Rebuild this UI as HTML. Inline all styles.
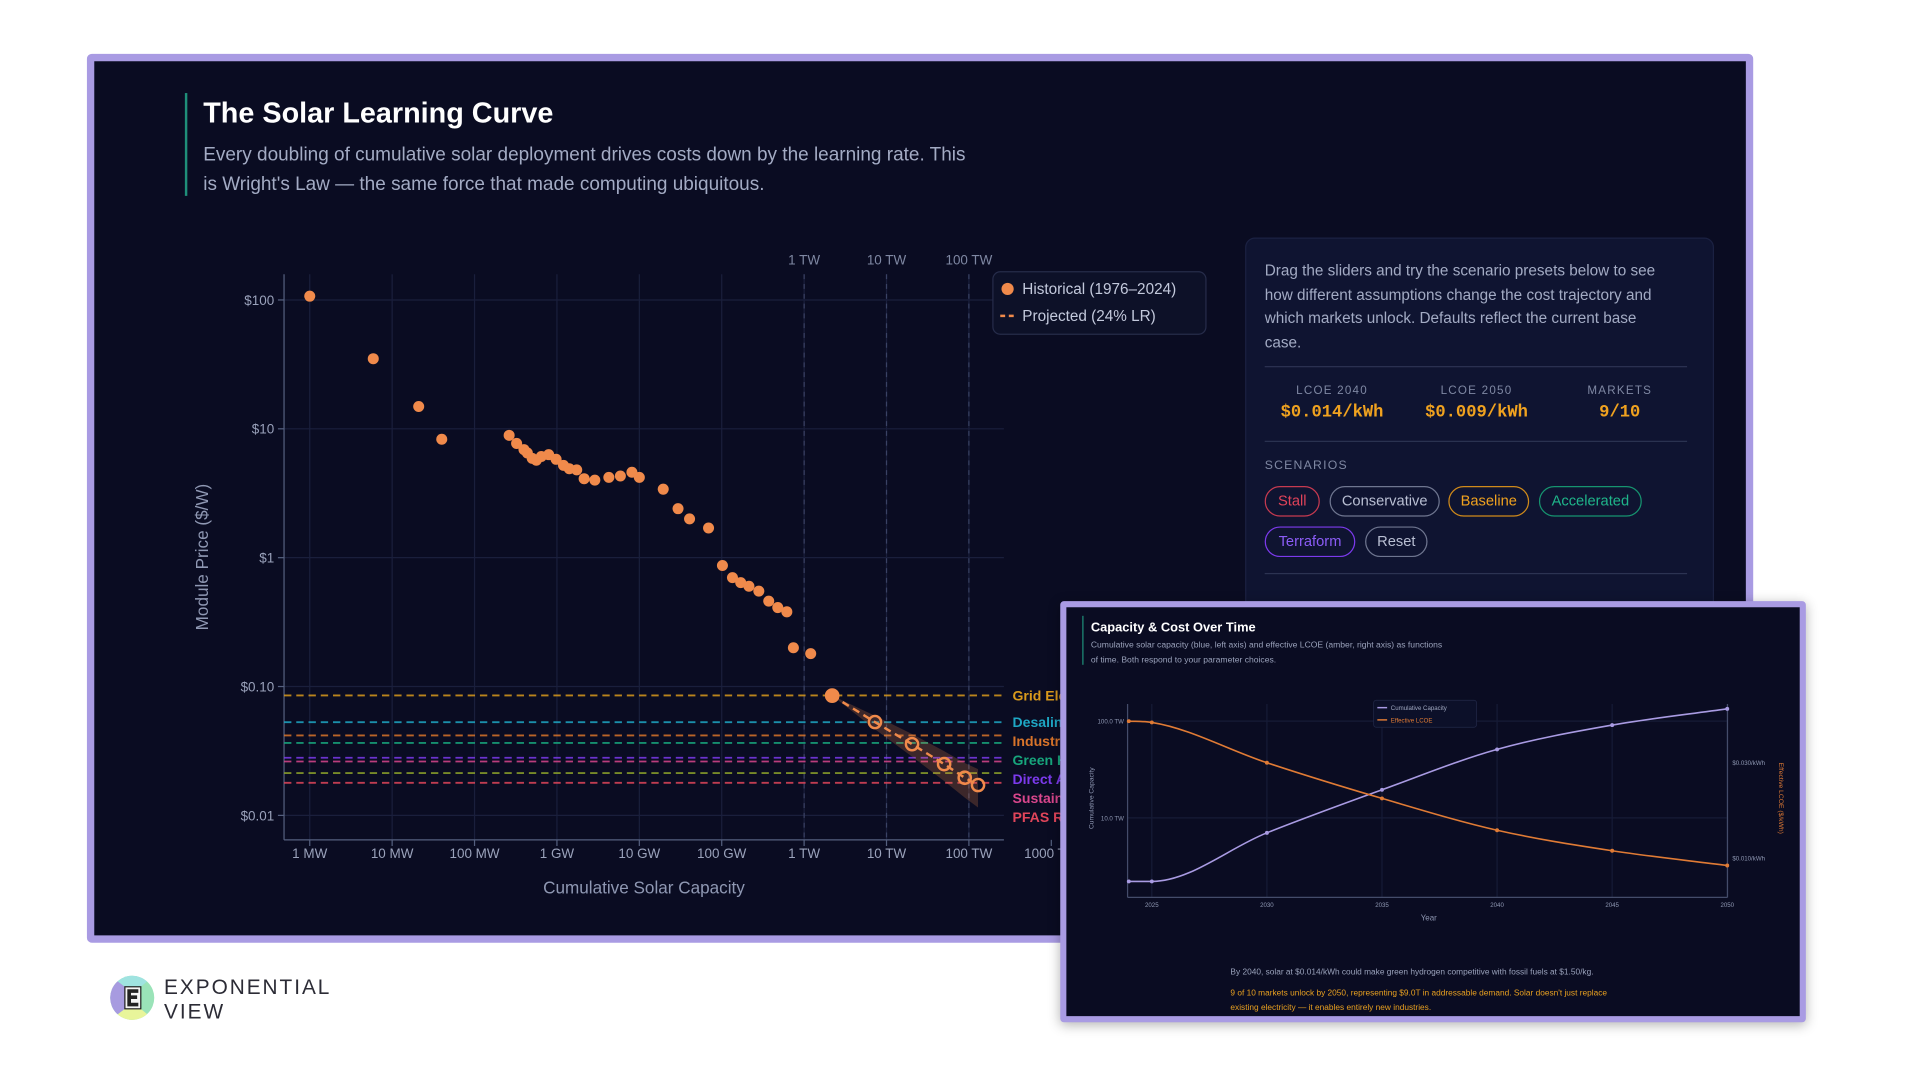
<!DOCTYPE html>
<html><head><meta charset="utf-8">
<style>
html,body{margin:0;padding:0;background:#fff;width:1920px;height:1080px;overflow:hidden;font-family:"Liberation Sans",sans-serif}
#stage{position:absolute;left:0;top:0;width:1543px;height:868px;transform:scale(1.2243);transform-origin:0 0}
.abs{position:absolute}
#frame{left:71px;top:44px;width:1349px;height:714px;border:6px solid #a99be3;border-radius:4px;background:#0a0c22}
#panel{left:1017px;top:194px;width:381px;height:320px;background:#0f1431;border-radius:8px;border:1px solid #1b2142}
.ptxt{color:#a3abc4;font-size:12.5px;line-height:19.7px}
.div{height:1px;background:#2c3352;width:345px;left:1033px}
.slab{color:#7f88a3;font-size:9.5px;letter-spacing:1px;text-align:center;width:110px}
.sval{color:#f0a21f;font-family:"Liberation Mono",monospace;font-weight:bold;font-size:14px;text-align:center;width:120px}
.btn{height:23px;border-radius:13px;border:1.5px solid;font-size:12px;line-height:23px;text-align:center;box-sizing:content-box}
#inset{left:866px;top:491px;width:599px;height:334px;border:5px solid #a99be3;background:#0a0c22;border-radius:3px;box-shadow:0 2px 10px rgba(0,0,0,.3)}
</style></head><body>
<div id="stage">
<div id="frame" class="abs"></div>
<div class="abs" style="left:151px;top:76px;width:2px;height:84px;background:#1f8f79"></div>
<div class="abs" style="left:166px;top:79px;color:#fff;font-weight:bold;font-size:23.5px">The Solar Learning Curve</div>
<div class="abs" style="left:166px;top:115px;color:#a3abc4;font-size:15.5px;line-height:24px;width:700px">Every doubling of cumulative solar deployment drives costs down by the learning rate. This<br>is Wright's Law — the same force that made computing ubiquitous.</div>

<svg class="abs" id="main" style="left:0;top:0" width="1543" height="868"></svg>

<div id="panel" class="abs"></div>
<div class="abs ptxt" style="left:1033px;top:212px;width:330px">Drag the sliders and try the scenario presets below to see how different assumptions change the cost trajectory and which markets unlock. Defaults reflect the current base case.</div>
<div class="abs div" style="top:299px"></div>
<div class="abs slab" style="left:1033px;top:314px">LCOE 2040</div>
<div class="abs sval" style="left:1028px;top:329px">$0.014/kWh</div>
<div class="abs slab" style="left:1151px;top:314px">LCOE 2050</div>
<div class="abs sval" style="left:1146px;top:329px">$0.009/kWh</div>
<div class="abs slab" style="left:1268px;top:314px">MARKETS</div>
<div class="abs sval" style="left:1263px;top:329px">9/10</div>
<div class="abs div" style="top:360px"></div>
<div class="abs" style="left:1033px;top:375px;color:#7f88a3;font-size:10px;letter-spacing:1px">SCENARIOS</div>
<div class="abs btn" style="left:1033px;top:397px;width:43px;color:#e0435a;border-color:#c73a50">Stall</div>
<div class="abs btn" style="left:1086px;top:397px;width:88px;color:#b9bfd3;border-color:#6f7690">Conservative</div>
<div class="abs btn" style="left:1183px;top:397px;width:64px;color:#f0a21f;border-color:#d08a1a">Baseline</div>
<div class="abs btn" style="left:1257px;top:397px;width:82px;color:#1fb58a;border-color:#16946f">Accelerated</div>
<div class="abs btn" style="left:1033px;top:430px;width:72px;color:#8b5cf6;border-color:#7c3aed">Terraform</div>
<div class="abs btn" style="left:1115px;top:430px;width:49px;color:#b9bfd3;border-color:#6f7690">Reset</div>
<div class="abs div" style="top:468px"></div>

<div id="inset" class="abs"></div>
<div class="abs" style="left:884px;top:503px;width:1px;height:40px;background:#1f8f79"></div>
<div class="abs" style="left:891px;top:507px;color:#fff;font-weight:bold;font-size:10.5px">Capacity &amp; Cost Over Time</div>
<div class="abs" style="left:891px;top:522px;color:#9aa2bb;font-size:7px;line-height:11.5px;width:340px">Cumulative solar capacity (blue, left axis) and effective LCOE (amber, right axis) as functions<br>of time. Both respond to your parameter choices.</div>
<svg class="abs" id="inset-chart" style="left:0;top:0" width="1543" height="868"></svg>
<div class="abs" style="left:1005px;top:791px;color:#9aa2bb;font-size:6.8px">By 2040, solar at $0.014/kWh could make green hydrogen competitive with fossil fuels at $1.50/kg.</div>
<div class="abs" style="left:1005px;top:806px;color:#e8a020;font-size:6.8px;line-height:11.5px;width:322px">9 of 10 markets unlock by 2050, representing $9.0T in addressable demand. Solar doesn't just replace existing electricity — it enables entirely new industries.</div>

<svg class="abs" style="left:89px;top:796px" width="38" height="38" viewBox="0 0 38 38">
<clipPath id="cc"><circle cx="19" cy="19" r="18"/></clipPath>
<g clip-path="url(#cc)"><rect x="0" y="0" width="38" height="38" fill="#9ae3b8"/><polygon points="0,0 13,10 13,28 0,38" fill="#a79be0"/><polygon points="0,0 38,0 26,10 13,10" fill="#9fe3e0"/><polygon points="13,28 26,28 38,38 0,38" fill="#e8f59a"/><rect x="13" y="10" width="13" height="18" fill="#f4f4f4" stroke="#222" stroke-width="1"/><path d="M15 12h9v3h-6v2h5v3h-5v3h6v3h-9z" fill="#222"/></g></svg>
<div class="abs" style="left:134px;top:797px;color:#2b2b35;font-size:17px;letter-spacing:1.6px;line-height:19.5px">EXPONENTIAL<br>VIEW</div>
</div>

<script>
// ---- main chart data ----
const histCapacityMW = [1,5.9,21,40,263,324,398,437,501,562,646,794,977,1202,1413,1738,2138,2884,4266,5888,8128,10000,19500,29500,40700,69200,102000,135000,170000,214000,282000,372000,479000,617000,741000,1202000];
const histPrice = [107,35,14.9,8.3,8.9,7.7,6.9,6.5,5.9,5.7,6.1,6.3,5.8,5.2,4.9,4.8,4.1,4.0,4.2,4.3,4.6,4.2,3.4,2.4,2.0,1.7,0.87,0.70,0.64,0.60,0.55,0.46,0.41,0.38,0.20,0.18];
const projCapacityMW = [2190000,7240000,20400000,50000000,89000000,129000000];
const projPrice = [0.085,0.053,0.0357,0.025,0.0196,0.0172];
const projBand = [0.0,0.12,0.2,0.26,0.3,0.33];
const xTickValues = [1,10,100,1e3,1e4,1e5,1e6,1e7,1e8,1e9];
const xTickLabels = ["1 MW","10 MW","100 MW","1 GW","10 GW","100 GW","1 TW","10 TW","100 TW","1000 TW"];
const yTickValues = [100,10,1,0.1,0.01];
const yTickLabels = ["$100","$10","$1","$0.10","$0.01"];
const topRefValues = [1e6,1e7,1e8];
const topRefLabels = ["1 TW","10 TW","100 TW"];
const marketNames = ["Grid Electricity","Desalination","Industrial Heat","Green Hydrogen","Direct Air Capture","Sustainable Aviation Fuel","","PFAS Remediation"];
const marketThreshold = [0.0853,0.0529,0.0417,0.0365,0.0280,0.0262,0.0213,0.0179];
const marketColors = ["#d99a1c","#1ea7c4","#d9742a","#17a57c","#7c3aed","#d9468c","#8aa12a","#e0455a"];

const NS="http://www.w3.org/2000/svg";
function mk(parent,tag,attrs,text){const e=document.createElementNS(NS,tag);for(const k in attrs)e.setAttribute(k,attrs[k]);if(text!==undefined)e.textContent=text;parent.appendChild(e);return e;}
const X=v=>253+67.3*Math.log10(v);
const Y=v=>245+105.25*(2-Math.log10(v));
const svg=document.getElementById('main');
const L=232,R=820,T=224,B=686;

xTickValues.forEach((v,i)=>{const x=X(v);if(x<R){const g=mk(svg,'line',{x1:x,x2:x,y1:T,y2:B,stroke:'#1a1f3c','stroke-width':1});

}
const t=mk(svg,'line',{x1:x,x2:x,y1:B,y2:B+5,stroke:'#55607f'});


const lb=mk(svg,'text',{x:x,y:B+15,fill:'#9aa2bb','font-size':11,'text-anchor':'middle'},xTickLabels[i]);

});
yTickValues.forEach((v,i)=>{const y=Y(v);const g=mk(svg,'line',{x1:L,x2:R,y1:y,y2:y,stroke:'#1a1f3c'});


const t=mk(svg,'line',{x1:L-5,x2:L,y1:y,y2:y,stroke:'#55607f'});


const lb=mk(svg,'text',{x:L-8,y:y+4,fill:'#9aa2bb','font-size':11,'text-anchor':'end'},yTickLabels[i]);

});
topRefValues.forEach((v,i)=>{const x=X(v);const l=mk(svg,'line',{x1:x,x2:x,y1:T,y2:B,stroke:'#3a4264','stroke-dasharray':'4 4'});


const t=mk(svg,'text',{x:x,y:216,fill:'#7f88a3','font-size':11,'text-anchor':'middle'},topRefLabels[i]);

});
const ya=mk(svg,'line',{x1:L,x2:L,y1:T,y2:B,stroke:'#55607f'});


const xa=mk(svg,'line',{x1:L,x2:R,y1:B,y2:B,stroke:'#55607f'});


const yt=mk(svg,'text',{x:0,y:0,fill:'#8f98b3','font-size':14,'text-anchor':'middle',transform:'translate(170,455) rotate(-90)'},'Module Price ($/W)');


const xt=mk(svg,'text',{x:526,y:730,fill:'#8f98b3','font-size':14,'text-anchor':'middle'},'Cumulative Solar Capacity');



let prevLY=-1e9;
marketThreshold.forEach((p,i)=>{const y=Y(p);const l=mk(svg,'line',{x1:L,x2:R,y1:y,y2:y,stroke:marketColors[i],'stroke-width':1.5,'stroke-dasharray':'6 4',opacity:0.85});


if(marketNames[i]){const ly=Math.max(y,prevLY+15.5);prevLY=ly;
const t=mk(svg,'text',{x:827,y:ly+4,fill:marketColors[i],'font-size':11.5,'font-weight':'bold'},marketNames[i]);

}});

let up=[],lo=[];projCapacityMW.forEach((c,i)=>{up.push(X(c)+','+Y(projPrice[i]*(1+projBand[i])));lo.unshift(X(c)+','+Y(projPrice[i]*(1-projBand[i])));});
const band=mk(svg,'polygon',{points:up.concat(lo).join(' '),fill:'#f08a4b','fill-opacity':0.22});


const pl=mk(svg,'polyline',{points:projCapacityMW.map((c,i)=>X(c)+','+Y(projPrice[i])).join(' '),fill:'none',stroke:'#f08a4b','stroke-width':2,'stroke-dasharray':'6 4'});


projCapacityMW.forEach((c,i)=>{const e=mk(svg,'circle',i===0?{cx:X(c),cy:Y(projPrice[i]),r:6,fill:'#f08a4b'}:{cx:X(c),cy:Y(projPrice[i]),r:5,fill:'none',stroke:'#f08a4b','stroke-width':2});

});
histCapacityMW.forEach((c,i)=>{const e=mk(svg,'circle',{cx:X(c),cy:Y(histPrice[i]),r:4.5,fill:'#f08a4b'});

});

const lg=mk(svg,'rect',{x:811,y:222,width:174,height:51,rx:6,fill:'#0d1128',stroke:'#262c4a'});


const ld=mk(svg,'circle',{cx:823,cy:236,r:5,fill:'#f08a4b'});


const lt1=mk(svg,'text',{x:835,y:240,fill:'#c3c9dc','font-size':12.5},'Historical (1976–2024)');


const ll=mk(svg,'line',{x1:817,x2:830,y1:258,y2:258,stroke:'#f08a4b','stroke-width':2,'stroke-dasharray':'4 3'});


const lt2=mk(svg,'text',{x:835,y:262,fill:'#c3c9dc','font-size':12.5},'Projected (24% LR)');



// ---- inset chart data ----
const years = [2024,2025,2030,2035,2040,2045,2050];
const capacityTW = [2.2,2.2,7.0,19.5,51,91,134];
const lcoe = [0.0484,0.0477,0.030,0.0199,0.0138,0.0109,0.0092];
const yearTicks = [2025,2030,2035,2040,2045,2050];
const capTicks = [100,10];
const capTickLabels = ["100.0 TW","10.0 TW"];
const lcoeTicks = [0.03,0.01];
const lcoeTickLabels = ["$0.030/kWh","$0.010/kWh"];

const s2=document.getElementById('inset-chart');
const IL=921,IR=1411,IT=575,IB=733;
const IX=y=>922+18.8*(y-2024);
const IYc=v=>668-79*(Math.log10(v)-1);
const IYl=v=>701-163.5*(Math.log10(v)+2);
capTicks.forEach((v,i)=>{const y=IYc(v);const g=mk(s2,'line',{x1:IL,x2:IR,y1:y,y2:y,stroke:'#161b36'});


const t=mk(s2,'text',{x:IL-3,y:y+2,fill:'#8f98b3','font-size':5,'text-anchor':'end'},capTickLabels[i]);

});
lcoeTicks.forEach((v,i)=>{const y=IYl(v);const t=mk(s2,'text',{x:IR+4,y:y+2,fill:'#8f98b3','font-size':5},lcoeTickLabels[i]);

});
yearTicks.forEach(v=>{const x=IX(v);const g=mk(s2,'line',{x1:x,x2:x,y1:IT,y2:IB,stroke:'#161b36'});


const t=mk(s2,'text',{x:x,y:IB+8,fill:'#8f98b3','font-size':5,'text-anchor':'middle'},String(v));

});
[{x1:IL,x2:IL,y1:IT,y2:IB,stroke:'#444c6a'},{x1:IR,x2:IR,y1:IT,y2:IB,stroke:'#444c6a'},{x1:IL,x2:IR,y1:IB,y2:IB,stroke:'#444c6a'}].forEach(a=>{const e=mk(s2,'line',a);

});
function monotone(p){const n=p.length,d=[],m=[];for(let i=0;i<n-1;i++)d.push((p[i+1][1]-p[i][1])/(p[i+1][0]-p[i][0]));
m[0]=d[0];m[n-1]=d[n-2];for(let i=1;i<n-1;i++){m[i]=(d[i-1]*d[i]<=0)?0:(d[i-1]+d[i])/2;}
for(let i=0;i<n-1;i++){if(d[i]===0){m[i]=0;m[i+1]=0;continue;}const a=m[i]/d[i],b=m[i+1]/d[i],s=a*a+b*b;if(s>9){const t=3/Math.sqrt(s);m[i]=t*a*d[i];m[i+1]=t*b*d[i];}}
let s='M'+p[0][0]+','+p[0][1];for(let i=0;i<n-1;i++){const h=(p[i+1][0]-p[i][0])/3;s+=` C${p[i][0]+h},${p[i][1]+m[i]*h} ${p[i+1][0]-h},${p[i+1][1]-m[i+1]*h} ${p[i+1][0]},${p[i+1][1]}`;}return s;}
const cp=years.map((y,i)=>[IX(y),IYc(capacityTW[i])]);
const lp=years.map((y,i)=>[IX(y),IYl(lcoe[i])]);
const c1=mk(s2,'path',{d:monotone(cp),fill:'none',stroke:'#a99be3','stroke-width':1.3});


const c2=mk(s2,'path',{d:monotone(lp),fill:'none',stroke:'#e07b35','stroke-width':1.3});


cp.forEach(p=>{const e=mk(s2,'circle',{cx:p[0],cy:p[1],r:1.6,fill:'#a99be3'});

});
lp.forEach(p=>{const e=mk(s2,'circle',{cx:p[0],cy:p[1],r:1.6,fill:'#e07b35'});

});
const ilg=mk(s2,'rect',{x:1122,y:572,width:84,height:22,rx:2,fill:'#0c1029',stroke:'#222848','stroke-width':0.6});


const il1=mk(s2,'line',{x1:1125,x2:1133,y1:578,y2:578,stroke:'#a99be3','stroke-width':1.2});


const it1=mk(s2,'text',{x:1136,y:580,fill:'#a0a8c0','font-size':5},'Cumulative Capacity');


const il2=mk(s2,'line',{x1:1125,x2:1133,y1:588,y2:588,stroke:'#e07b35','stroke-width':1.2});


const it2=mk(s2,'text',{x:1136,y:590,fill:'#e07b35','font-size':5},'Effective LCOE');


const iy=mk(s2,'text',{x:1167,y:752,fill:'#8f98b3','font-size':6.5,'text-anchor':'middle'},'Year');


const iyl=mk(s2,'text',{x:0,y:0,fill:'#8f98b3','font-size':5.5,'text-anchor':'middle',transform:'translate(893,652) rotate(-90)'},'Cumulative Capacity');


const iyr=mk(s2,'text',{x:0,y:0,fill:'#e07b35','font-size':5.5,'text-anchor':'middle',transform:'translate(1453,652) rotate(90)'},'Effective LCOE ($/kWh)');


</script>
</body></html>
